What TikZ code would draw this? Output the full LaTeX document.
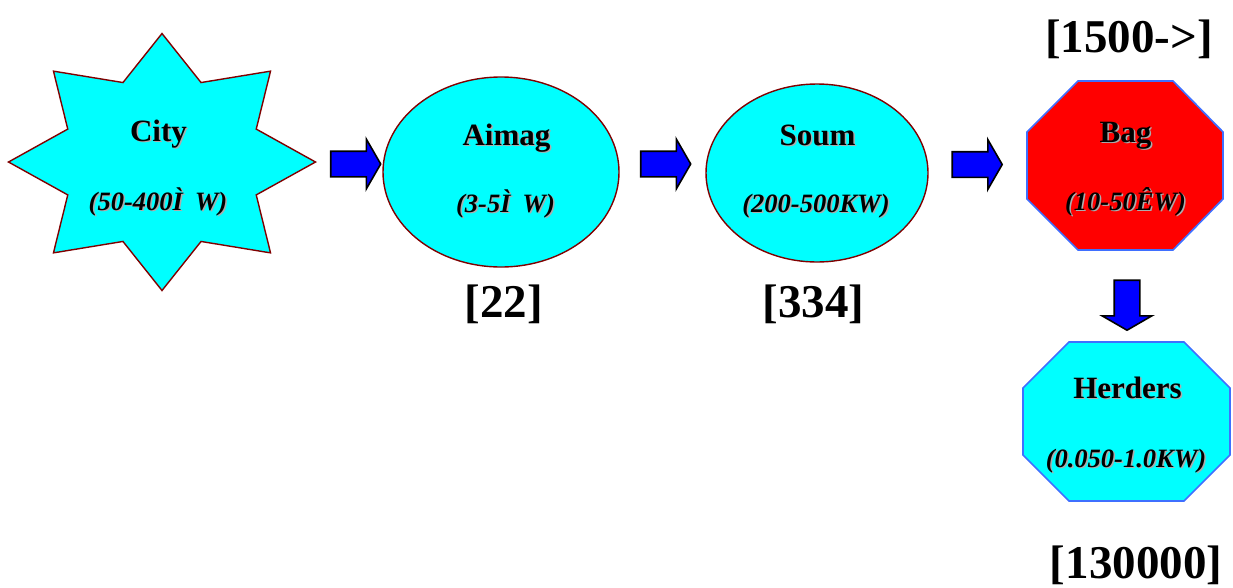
\documentclass[tikz,border=0pt]{standalone}
\usepackage{fontspec}
\setmainfont{Liberation Serif}
\usetikzlibrary{shapes.geometric,shapes.arrows}
\definecolor{fillcyan}{HTML}{00FFFF}
\definecolor{edgered}{HTML}{800000}
\definecolor{edgeblue}{HTML}{3F6FFF}
\definecolor{bagred}{HTML}{FF0000}
\definecolor{arrowblue}{HTML}{0000FF}
\tikzset{
  region/.style={fill=fillcyan, draw=edgered, line width=1.4pt, line join=miter},
  octo/.style={draw=edgeblue, line width=1.7pt, line join=miter},
  blockarrow/.style={single arrow, draw=black, fill=arrowblue, line width=1.6pt,
    inner xsep=0pt, inner ysep=12pt, minimum height=50pt,
    single arrow head extend=12pt, single arrow tip angle=120,
    single arrow head indent=0pt},
  titlefont/.style={font=\fontsize{31}{36}\selectfont\bfseries},
  subfont/.style={font=\fontsize{26.5}{30}\selectfont\bfseries\itshape},
  countfont/.style={font=\fontsize{47}{52}\selectfont\bfseries},
}
% text with a soft grey drop shadow: name, x, y, style, text
\newcommand\shadowlabel[5]{%
  \node[anchor=base, text=gray!65, inner sep=0pt, #4] at (#2+1.5,#3+1.5) {#5};
  \node[anchor=base, inner sep=0pt, #4] (#1) at (#2,#3) {#5};}
\begin{document}
\begin{tikzpicture}[x=1pt,y=-1pt]
\useasboundingbox (0,0) rectangle (1233,587);

% eight-pointed star
\draw[region] (162,33.5)
  \foreach \i in {1,...,15} {
    -- ({162+ifthenelse(mod(\i,2)==0,153.5,102)*cos(90-22.5*\i)},
        {162-ifthenelse(mod(\i,2)==0,128.5,86)*sin(90-22.5*\i)})
  } -- cycle;
\coordinate (city) at (162,162);

% ellipses
\node[region, ellipse, minimum width=236pt, minimum height=190pt, inner sep=0pt]
  (aimag) at (501,172) {};
\node[region, ellipse, minimum width=222pt, minimum height=178pt, inner sep=0pt]
  (soum) at (817,173) {};

% octagons
\draw[octo, fill=bagred] (1078,81) -- (1173,81) -- (1223,132) -- (1223,199)
  -- (1173,250) -- (1078,250) -- (1027,199) -- (1027,132) -- cycle;
\coordinate (bag) at (1125,165.5);
\draw[octo, fill=fillcyan] (1069,342) -- (1184,342) -- (1230,388) -- (1230,455)
  -- (1184,501) -- (1069,501) -- (1023,455) -- (1023,388) -- cycle;
\coordinate (herders) at (1126.5,421.5);

% block arrows
\node[blockarrow] (a1) at (352,164) {};
\node[blockarrow] (a2) at (662,164) {};
\node[blockarrow] (a3) at (973.5,164.5) {};
\node[blockarrow, rotate=-90] (a4) at (1127,301.5) {};

% labels
\shadowlabel{tcity}{158.5}{141}{titlefont}{City}
\shadowlabel{scity}{158}{210}{subfont}{(50-400Ì\hspace{0.45em}W)}
\shadowlabel{taimag}{506.5}{145}{titlefont}{Aimag}
\shadowlabel{saimag}{505.5}{212}{subfont}{(3-5Ì\hspace{0.45em}W)}
\shadowlabel{tsoum}{817.5}{145}{titlefont}{Soum}
\shadowlabel{ssoum}{816}{212}{subfont}{(200-500KW)}
\shadowlabel{tbag}{1125.5}{142}{titlefont}{Bag}
\shadowlabel{sbag}{1125.5}{210}{subfont}{(10-50ÊW)}
\shadowlabel{therd}{1127.5}{398}{titlefont}{Herders}
\shadowlabel{sherd}{1126}{467}{subfont}{(0.050-1.0KW)}

\node[countfont, anchor=base, inner sep=0pt] (n22) at (503.5,317) {[22]};
\node[countfont, anchor=base, inner sep=0pt] (n334) at (813.5,317) {[334]};
\node[countfont, anchor=base, inner sep=0pt] (n1500) at (1129,52) {[1500->]};
\node[countfont, anchor=base, inner sep=0pt] (n130k) at (1136,578) {[130000]};
\end{tikzpicture}
\end{document}
